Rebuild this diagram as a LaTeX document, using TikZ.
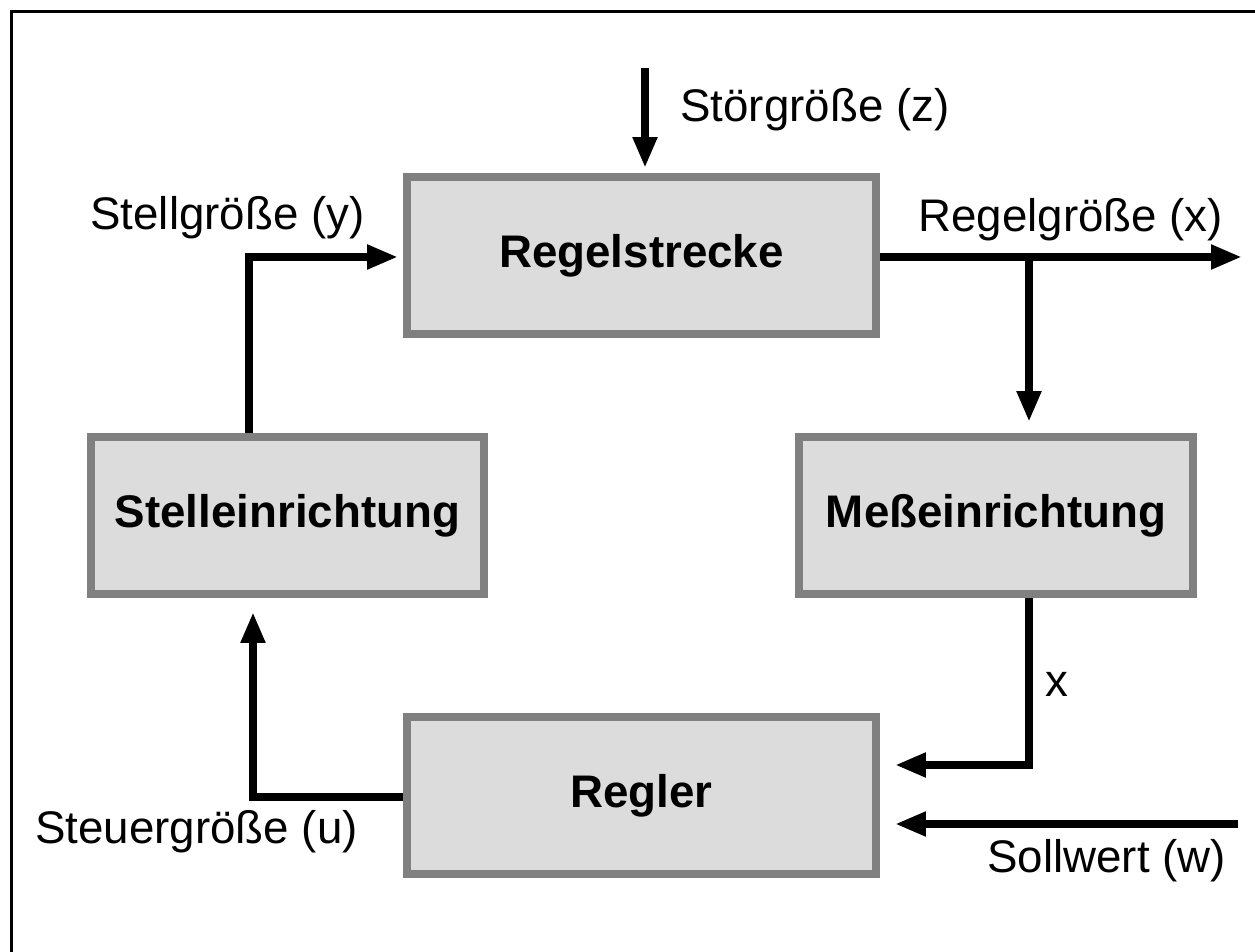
\documentclass[tikz,border=0pt]{standalone}
\usepackage{fontspec}
\setmainfont{Liberation Sans}
\usetikzlibrary{arrows.meta}
\definecolor{boxfill}{gray}{0.863}
\definecolor{boxline}{gray}{0.502}
\begin{document}
\begin{tikzpicture}[x=0.02cm,y=-0.02cm,
  block/.style={draw=boxline,fill=boxfill,line width=0.16cm,inner sep=0pt,
    minimum height=3.14cm,font=\fontsize{26}{30}\selectfont\bfseries},
  sig/.style={line width=0.16cm,-{Triangle[length=0.62cm,width=0.46cm]}},
  lab/.style={anchor=base west,inner sep=0pt,font=\fontsize{26}{30}\selectfont}]
\useasboundingbox (0,0) rectangle (1255,952);
\draw[line width=0.07cm] (11.5,952)--(11.5,11.5)--(1255,11.5);

\node[block,minimum width=9.38cm] (strecke) at (641.5,255.5) {Regelstrecke};
\node[block,minimum width=7.86cm] (stell) at (287.5,515.5) {Stelleinrichtung};
\node[block,minimum width=7.88cm] (mess) at (996,515.5) {Me\ss einrichtung};
\node[block,minimum width=9.38cm] (regler) at (641.5,795.5) {Regler};

\coordinate (zin) at (645,68);
\coordinate (yk) at (249,257);
\coordinate (xout) at (1242,257);
\coordinate (xab) at (1029,257);
\coordinate (xk) at (1029,765);
\coordinate (wein) at (1238,824);
\coordinate (uk) at (253,797);

\draw[sig,shorten >=0.1cm] (zin)--(zin |- strecke.north);
\draw[sig,shorten >=0.1cm] (stell.north -| yk)--(yk)--(yk -| strecke.west);
\draw[sig] (strecke.east |- xout)--(xout);
\draw[sig,shorten >=0.22cm] (xab)--(xab |- mess.north);
\draw[sig,shorten >=0.3cm] (mess.south -| xk)--(xk)--(xk -| regler.east);
\draw[sig,shorten >=0.3cm] (wein)--(wein -| regler.east);
\draw[sig,shorten >=0.28cm] (regler.west |- uk)--(uk)--(uk |- stell.south);

\node[lab] (zlab) at (680,122) {Störgröße (z)};
\node[lab] (ylab) at (90,230) {Stellgröße (y)};
\node[lab] (xlab) at (918,232) {Regelgröße (x)};
\node[lab] (xmess) at (1045,697) {x};
\node[lab] (wlab) at (987,872) {Sollwert (w)};
\node[lab] (ulab) at (35,843) {Steuergröße (u)};
\end{tikzpicture}
\end{document}
